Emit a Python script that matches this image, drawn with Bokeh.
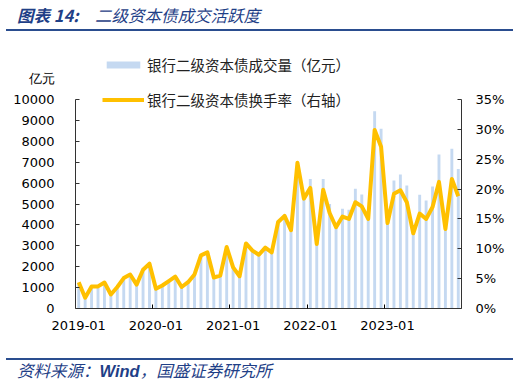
from bokeh.plotting import figure
from bokeh.layouts import column
from bokeh.models import (Range1d, LinearAxis, FixedTicker, Legend, LegendItem, Div,
                          PrintfTickFormatter, CustomLabelingPolicy)
from bokeh.embed import file_html
from bokeh.resources import INLINE

# ---- data ----
months = [f"{y}-{m:02d}" for y in range(2019, 2024) for m in range(1, 13)]
volume = [1220, 500, 1030, 1020, 1200, 650, 990, 1410, 1580, 1110, 1800, 2080,
          920, 1070, 1280, 1490, 990, 1230, 1590, 2480, 2620, 1450, 1540, 2880,
          1950, 1530, 3100, 2780, 2590, 2940, 2720, 4200, 4500, 3820, 6800, 5300,
          6200, 3300, 6200, 5000, 4000, 4770, 4720, 5725, 5455, 4700, 9440, 8600,
          4500, 6120, 6410, 5885, 4000, 5440, 5170, 5840, 7370, 4500, 7640, 6680]
turnover = [4.4, 1.8, 3.7, 3.7, 4.35, 2.35, 3.6, 5.1, 5.7, 4.0, 6.5, 7.5,
            3.3, 3.85, 4.6, 5.35, 3.6, 4.4, 5.7, 8.9, 9.4, 5.2, 5.5, 10.3,
            6.9, 5.4, 10.9, 9.7, 9.0, 10.2, 9.4, 14.5, 15.5, 13.1, 24.4, 18.4,
            20.2, 10.8, 19.9, 16.0, 13.6, 15.4, 15.0, 17.8, 17.1, 15.0, 29.9, 27.1,
            14.3, 19.2, 19.8, 17.8, 12.6, 15.9, 15.0, 17.0, 21.2, 13.3, 21.7, 18.8]
left_ticks = list(range(0, 10001, 1000))
right_ticks = list(range(0, 36, 5))
label_months = months[::12]
series_names = ["银行二级资本债成交量（亿元）", "银行二级资本债换手率（右轴）"]
unit_label = "亿元"
title_prefix = "图表 14:"
title_text = "二级资本债成交活跃度"
source_parts = ["资料来源：", "Wind", "，国盛证券研究所"]

idx = list(range(len(months)))

TICK_FONT = "DejaVu Sans"
CJK = "Noto Sans CJK SC"
BLUE = "#1F3F87"
RULE = "#2A4D8F"

# geometry (pixels)
FRAME_TOP, AXIS_TOP, AXIS_BOTTOM = 45, 99, 308
frame_h = AXIS_BOTTOM - FRAME_TOP
scale_ext = frame_h / (AXIS_BOTTOM - AXIS_TOP)
left_max, right_max = left_ticks[-1], right_ticks[-1]
unit_value = left_max * (AXIS_BOTTOM - 78) / (AXIS_BOTTOM - AXIS_TOP)

p = figure(frame_width=386, frame_height=frame_h, output_backend="svg", toolbar_location=None,
           x_range=Range1d(-0.5, len(months) - 0.5),
           y_range=Range1d(0, left_max * scale_ext),
           min_border_left=75, min_border_right=68, min_border_top=12, min_border_bottom=44,
           margin=0)
p.outline_line_color = None
p.xgrid.visible = False
p.ygrid.visible = False
p.background_fill_color = "white"
p.border_fill_color = "white"
p.extra_y_ranges = {"rate": Range1d(0, right_max * scale_ext)}

bars = p.vbar(x=idx, top=volume, width=0.45, fill_color="#C5D9F1", line_color=None)
line = p.line(x=idx, y=turnover, y_range_name="rate", line_color="#FFC000",
              line_width=4, line_join="round")

# x axis
xa = p.xaxis[0]
xa.ticker = FixedTicker(ticks=[months.index(m) for m in label_months],
                        minor_ticks=[months.index(m) - 0.5 for m in label_months[1:]])
xa.major_label_overrides = {months.index(m): m for m in label_months}
xa.major_tick_in = 0
xa.major_tick_out = 0
xa.minor_tick_in = 4
xa.minor_tick_out = 0
xa.major_label_standoff = 12
xa.major_label_text_font = TICK_FONT
xa.major_label_text_font_size = "13px"
xa.major_label_text_color = "#000000"
xa.axis_line_color = "#333333"

# left axis: line + ticks only, bounded at 0..10000 (labels suppressed)
ya = p.yaxis[0]
ya.ticker = FixedTicker(ticks=left_ticks)
ya.bounds = (0, left_max)
ya.major_tick_in = 4
ya.major_tick_out = 0
ya.minor_tick_line_color = None
ya.major_label_standoff = 0
ya.major_label_text_font_size = "0px"
ya.major_label_policy = CustomLabelingPolicy(
    code="for (const i of indices) { indices.unset(i) }\nreturn indices")
ya.axis_line_color = "#333333"
ya.major_tick_line_color = "#333333"

# left labels (numbers + unit)
la = LinearAxis(ticker=FixedTicker(ticks=left_ticks + [unit_value]))
la.major_label_overrides = {unit_value: unit_label}
la.axis_line_color = None
la.major_tick_line_color = None
la.minor_tick_line_color = None
la.major_label_standoff = 15
la.major_label_text_font = TICK_FONT
la.major_label_text_font_size = "13px"
la.major_label_text_color = "#000000"
p.add_layout(la, "left")

# right axis
ra = LinearAxis(y_range_name="rate", ticker=FixedTicker(ticks=right_ticks),
                formatter=PrintfTickFormatter(format="%d%%"))
ra.bounds = (0, right_max)
ra.major_tick_in = 4
ra.major_tick_out = 0
ra.minor_tick_line_color = None
ra.major_label_standoff = 14
ra.major_label_text_font = TICK_FONT
ra.major_label_text_font_size = "13px"
ra.major_label_text_color = "#000000"
ra.axis_line_color = "#333333"
ra.major_tick_line_color = "#333333"
p.add_layout(ra, "right")

legend = Legend(items=[LegendItem(label=series_names[0], renderers=[bars]),
                       LegendItem(label=series_names[1], renderers=[line])],
                location=(27, 198), orientation="vertical",
                glyph_width=42, glyph_height=9, label_height=20, spacing=14,
                padding=0, margin=0, border_line_color=None, background_fill_alpha=0,
                label_text_font=CJK, label_text_font_size="14.5px",
                label_text_color="#222222", label_standoff=3)
p.add_layout(legend)

font_css = f"font-family:'{CJK}';font-style:italic;color:{BLUE};white-space:nowrap;line-height:20px;"
title_div = Div(width=529, height=33, margin=0, text=(
    f'<div style="position:relative;margin-left:6px;width:507px;height:31px;'
    f'border-bottom:2px solid {RULE};">'
    f'<span style="position:absolute;left:11px;top:5px;font-size:16.5px;{font_css}">'
    f'<b>{title_prefix}</b>&emsp;{title_text}</span></div>'))
footer_div = Div(width=529, height=32, margin=0, text=(
    f'<div style="position:relative;margin-top:6px;margin-left:6px;width:507px;height:22px;'
    f'border-top:2px solid {RULE};">'
    f'<span style="position:absolute;left:11px;top:0px;font-size:16.5px;{font_css}">'
    f'{source_parts[0]}<b style="font-family:\'Liberation Sans\';">{source_parts[1]}</b>'
    f'{source_parts[2]}</span></div>'))

layout = column(title_div, p, footer_div, spacing=0, margin=0)
open("out.html", "w").write(file_html(layout, INLINE))
